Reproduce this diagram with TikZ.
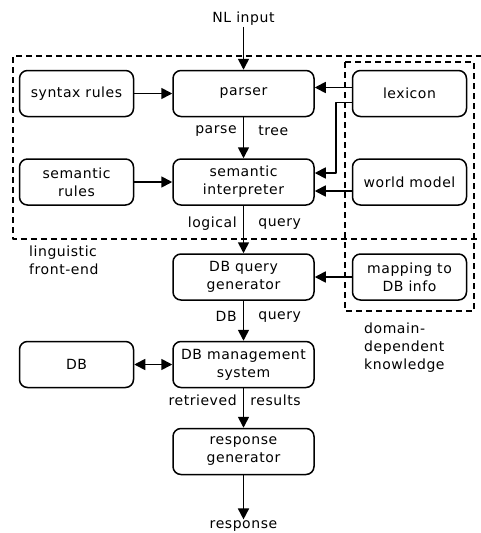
\documentclass[tikz,border=0pt]{standalone}
\usepackage{fontspec}
\setmainfont[LetterSpace=4]{DejaVu Sans}
\usetikzlibrary{arrows.meta}

\begin{document}
\begin{tikzpicture}[x = 1pt, y = -1pt, line join = round]
% styles of boxes, texts and arrows
\tikzset{box/.style={draw=black,line width=1.5pt,rounded corners=8pt,minimum height=46pt,
                     inner sep=2pt,align=center,font=\fontsize{14}{18}\selectfont},
         mainbox/.style={box,minimum width=141pt},
         sidebox/.style={box,minimum width=114pt},
         txt/.style={inner sep=1pt,align=left,font=\fontsize{14}{18}\selectfont},
         flow/.style={line width=1.7pt,-{Triangle[length=11pt,width=11pt]}},
         twoway/.style={line width=1.7pt,{Triangle[length=11pt,width=11pt]}-{Triangle[length=11pt,width=11pt]}},
         region/.style={line width=1.4pt,dash pattern=on 6pt off 4pt}}
\useasboundingbox (0,0) rectangle (480,533);

%regions
\draw [region] (482,56) -- (13,56) -- (13,239) -- (482,239);
\draw [region] (345,62) rectangle (474,311);

%boxes
\node [sidebox] (syntax) at (76.5,93.5) {syntax rules};
\node [mainbox] (parser) at (243.5,93.5) {parser};
\node [sidebox] (lexicon) at (409.5,93.5) {lexicon};
\node [sidebox] (semrules) at (76.5,182) {semantic\\rules};
\node [mainbox] (interp) at (243.5,182) {semantic\\interpreter};
\node [sidebox] (world) at (409.5,182) {world model};
\node [mainbox] (dbquery) at (243.5,277) {DB query\\generator};
\node [sidebox] (mapping) at (409.5,277) {mapping to\\DB info};
\node [sidebox] (db) at (76.5,364.5) {DB};
\node [mainbox] (dbms) at (243.5,364.5) {DB management\\system};
\node [mainbox] (respgen) at (243.5,451.5) {response\\generator};

%texts
\node [txt] (nlin) at (243.5,19) {NL input};
\node [txt] (resp) at (243.5,526) {response};
\node [txt, anchor=north west] (lingfe) at (28,245) {linguistic\\front-end};
\node [txt, anchor=north west] (domknow) at (363,322) {domain-\\dependent\\knowledge};

%arrows
\draw [flow] (nlin) -- (parser);
\draw [flow] (syntax) -- (parser);
\draw [flow] ([yshift=6pt]lexicon.west) -- ([yshift=6pt]lexicon.west -| parser.east);
\draw [flow] ([yshift=-9pt]lexicon.west) -- ++(-16,0) |- ([yshift=9pt]interp.east);
\draw [flow] (semrules) -- (interp);
\draw [flow] ([yshift=-9pt]world.west) -- ([yshift=-9pt]world.west -| interp.east);
\draw [flow] (mapping) -- (dbquery);
\draw [twoway] (db) -- (dbms);
\draw [flow] (parser) -- node [txt, pos=0.33, anchor=east, xshift=-5pt] {parse}
                         node [txt, pos=0.33, anchor=west, xshift=13pt] {tree} (interp);
\draw [flow] (interp) -- node [txt, pos=0.38, anchor=east, xshift=-5pt] {logical}
                         node [txt, pos=0.38, anchor=west, xshift=13pt] {query} (dbquery);
\draw [flow] (dbquery) -- node [txt, pos=0.4, anchor=east, xshift=-5pt] {DB}
                          node [txt, pos=0.4, anchor=west, xshift=13pt] {query} (dbms);
\draw [flow] (dbms) -- node [txt, pos=0.3, anchor=east, xshift=-5pt] {retrieved}
                       node [txt, pos=0.3, anchor=west, xshift=5pt] {results} (respgen);
\draw [flow] (respgen) -- (resp);
\end{tikzpicture}
\end{document}
